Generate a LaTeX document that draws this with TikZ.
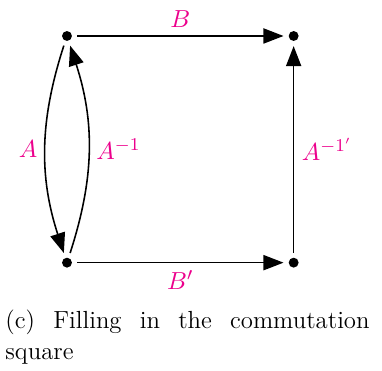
\documentclass[tikz,border=0pt]{standalone}
\usepackage{tikz}
\usetikzlibrary{positioning, arrows.meta}

\begin{document}
\begin{tikzpicture}[
            font=\fontsize{11}{13.6}\selectfont,
            node distance=3.54cm,
            on grid,
            punkt/.style={
                    circle,
                    fill,
                    inner sep=0pt,
                    minimum size=4.4pt
                },
            pfeil/.style={
                    draw,
                    ->,
                    >={Triangle[length=8.9pt, width=6.7pt]},
                    line width=0.7pt,
                    shorten >=2.1pt,
                    shorten <=2.1pt
                },
            marke/.style={
                    midway,
                    color=magenta
                }
        ]

        \useasboundingbox (-1.046,-5.232) rectangle (4.92,0.562);

        \node[punkt] (obenlinks) at (0,0) {};
        \node[punkt, right=of obenlinks] (obenrechts) {};
        \node[punkt, below=of obenlinks] (untenlinks) {};
        \node[punkt, below=of obenrechts] (untenrechts) {};

        \draw[pfeil] (obenlinks) -- node[marke, above] {$B$} (obenrechts);
        \draw[pfeil] (untenlinks) -- node[marke, below] {$B'$} (untenrechts);
        \draw[pfeil] (untenrechts) -- node[marke, right] {$A^{-1'}$} (obenrechts);
        \draw[pfeil] (obenlinks) to[bend right=18] node[marke, left] {$A$} (untenlinks);
        \draw[pfeil] (untenlinks) to[bend right=18] node[marke, right] {$A^{-1}$} (obenlinks);

        \node[anchor=north west, inner sep=0pt, text width=161.8pt, align=justify] (unterschrift) at (-0.968,-4.279) {(c) Filling in the commutation square};

    \end{tikzpicture}
\end{document}
